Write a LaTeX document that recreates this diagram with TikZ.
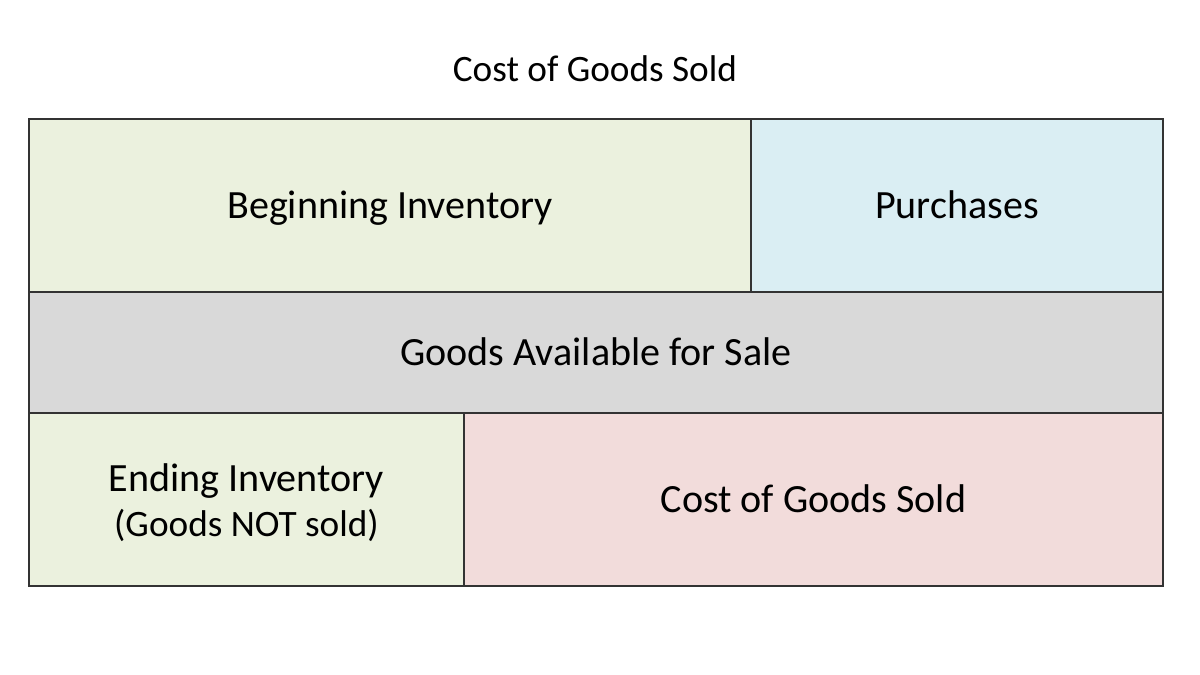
\documentclass[tikz,border=0pt]{standalone}
\usepackage{fontspec}
\setmainfont{Carlito}
\definecolor{invgreen}{HTML}{EBF1DE}
\definecolor{purblue}{HTML}{DAEEF3}
\definecolor{availgray}{HTML}{D9D9D9}
\definecolor{cogspink}{HTML}{F2DCDB}
\tikzset{
  block/.style={draw=black!80,line width=0.5pt,anchor=north west,inner sep=0pt,outer sep=0pt,align=center,
    font=\fontsize{11.4}{12.8}\selectfont},
  oneline/.style={block,text height=0.8em,text depth=0.08em}
}

\begin{document}
\begin{tikzpicture}
  \useasboundingbox (0,0) rectangle (12,6.75);
  % Title
  \node[font=\fontsize{10.6}{13}\selectfont] (title) at (5.95,6.06) {Cost of Goods Sold};

  % Top row
  \node[oneline,fill=invgreen,minimum width=7.22cm,minimum height=1.73cm] (begin) at (0.29,5.56) {Beginning Inventory};
  \node[oneline,fill=purblue,minimum width=4.12cm,minimum height=1.73cm] (purch) at (7.51,5.56) {Purchases};

  % Middle row
  \node[oneline,fill=availgray,minimum width=11.34cm,minimum height=1.21cm] (avail) at (0.29,3.83) {Goods Available for Sale};

  % Bottom row
  \node[block,fill=invgreen,minimum width=4.35cm,minimum height=1.73cm] (ending) at (0.29,2.62) {\rule{0pt}{10pt}Ending Inventory\\{\fontsize{10.6}{12.8}\selectfont (Goods NOT sold)}};
  \node[oneline,fill=cogspink,minimum width=6.99cm,minimum height=1.73cm] (cogs) at (4.64,2.62) {Cost of Goods Sold};
\end{tikzpicture}
\end{document}
